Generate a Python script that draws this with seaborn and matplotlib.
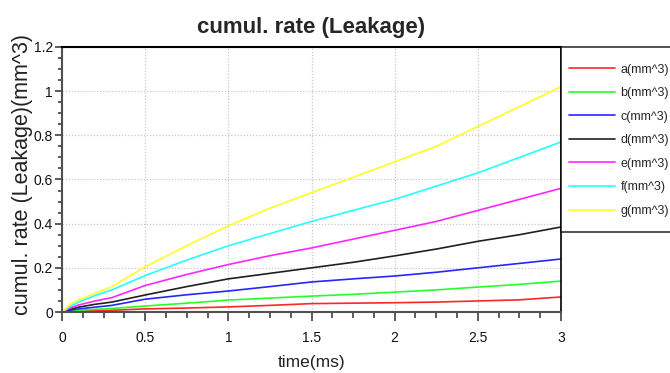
import numpy as np
import pandas as pd
import matplotlib
matplotlib.use("Agg")
import matplotlib.pyplot as plt
from matplotlib.ticker import MultipleLocator, FuncFormatter
from matplotlib.lines import Line2D
from matplotlib.legend_handler import HandlerLine2D
import seaborn as sns

time_ms = [0, 0.05, 0.1, 0.2, 0.3, 0.5, 0.75, 1.0, 1.25, 1.5, 1.75, 2.0, 2.25, 2.5, 2.75, 3.0]
a_vals = [0, 0.002, 0.004, 0.006, 0.008, 0.014, 0.018, 0.023, 0.030, 0.038, 0.040, 0.042, 0.045, 0.050, 0.055, 0.068]
b_vals = [0, 0.005, 0.008, 0.012, 0.016, 0.027, 0.040, 0.054, 0.063, 0.072, 0.080, 0.090, 0.100, 0.113, 0.125, 0.140]
c_vals = [0, 0.008, 0.014, 0.022, 0.030, 0.058, 0.078, 0.095, 0.115, 0.136, 0.150, 0.163, 0.180, 0.200, 0.220, 0.240]
d_vals = [0, 0.012, 0.022, 0.035, 0.045, 0.077, 0.115, 0.150, 0.175, 0.200, 0.225, 0.254, 0.285, 0.320, 0.350, 0.385]
e_vals = [0, 0.018, 0.032, 0.050, 0.065, 0.120, 0.170, 0.215, 0.255, 0.290, 0.330, 0.370, 0.410, 0.460, 0.510, 0.560]
f_vals = [0, 0.025, 0.045, 0.075, 0.100, 0.165, 0.235, 0.300, 0.355, 0.410, 0.460, 0.510, 0.570, 0.630, 0.700, 0.770]
g_vals = [0, 0.035, 0.055, 0.085, 0.115, 0.205, 0.300, 0.390, 0.470, 0.540, 0.610, 0.680, 0.750, 0.840, 0.930, 1.020]

series_names = ["a(mm^3)", "b(mm^3)", "c(mm^3)", "d(mm^3)", "e(mm^3)", "f(mm^3)", "g(mm^3)"]
series_colors = ["#ff2626", "#26ff26", "#2626ff", "#202020", "#ff26ff", "#26ffff", "#ffff26"]
all_vals = [a_vals, b_vals, c_vals, d_vals, e_vals, f_vals, g_vals]

title_text = "cumul. rate (Leakage)"
x_label = "time(ms)"
y_label = "cumul. rate (Leakage)(mm^3)"

df = pd.DataFrame({
    "time": np.tile(time_ms, len(series_names)),
    "value": np.concatenate(all_vals),
    "series": np.repeat(series_names, len(time_ms)),
})

sns.set_style("white")
plt.rcParams["font.family"] = ["Liberation Sans", "DejaVu Sans"]

fig = plt.figure(figsize=(6.70, 3.73), dpi=100)
W, H = 670, 373
ax = fig.add_axes([62 / W, (H - 312) / H, (561 - 62) / W, (312 - 47) / H])

sns.lineplot(data=df, x="time", y="value", hue="series", hue_order=series_names,
             palette=series_colors, linewidth=1.2, ax=ax, legend=True)

ax.set_xlim(0, 3)
ax.set_ylim(0, 1.2)
ax.xaxis.set_major_locator(MultipleLocator(0.5))
ax.xaxis.set_minor_locator(MultipleLocator(0.125))
ax.yaxis.set_major_locator(MultipleLocator(0.2))
ax.yaxis.set_minor_locator(MultipleLocator(0.05))
fmt = FuncFormatter(lambda v, p: "%g" % round(v, 3))
ax.xaxis.set_major_formatter(fmt)
ax.yaxis.set_major_formatter(fmt)

ax.grid(True, which="major", linestyle=(0, (1, 1.5)), color="#c8c8c8", linewidth=0.9)
ax.tick_params(axis="y", which="major", direction="out", length=5, width=1.2, color="#404040",
               labelsize=10, pad=1.5, left=True, labelcolor="#111111")
ax.tick_params(axis="y", which="minor", direction="out", length=3, width=1.2, color="#404040",
               left=True)
ax.tick_params(axis="x", which="major", direction="out", length=6.5, width=1.2, color="#404040",
               labelsize=10, pad=7, bottom=True, labelcolor="#111111")
ax.tick_params(axis="x", which="minor", direction="out", length=4, width=1.2, color="#404040",
               bottom=True)

for side in ["left", "bottom"]:
    ax.spines[side].set_color("#505050")
    ax.spines[side].set_linewidth(1.5)
ax.spines["top"].set_color("black")
ax.spines["top"].set_linewidth(1.5)
ax.spines["right"].set_color("black")
ax.spines["right"].set_linewidth(1.2)

ax.set_xlabel(x_label, fontsize=12.5, labelpad=7.5, color="#222222")
ax.set_ylabel(y_label, fontsize=15.5, color="#222222")
ax.yaxis.set_label_coords(-0.058, 0.52)
ax.set_title(title_text, fontsize=16, fontweight="bold", pad=10)

LEG_FS = 9
HH = 3.0


class ShiftedLineHandler(HandlerLine2D):
    def create_artists(self, legend, orig_handle, xdescent, ydescent, width, height,
                       fontsize, trans):
        arts = super().create_artists(legend, orig_handle, xdescent, ydescent, width,
                                      height, fontsize, trans)
        shift = 0.345 * fontsize
        for a in arts:
            a.set_ydata(np.asarray(a.get_ydata(), dtype=float) - shift)
        return arts


handles, labels = ax.get_legend_handles_labels()
leg = ax.legend(handles, labels, loc="upper left", bbox_to_anchor=(1.0, 0.0, 0.3, 1.0),
                mode="expand", borderaxespad=0, frameon=True, fancybox=False,
                edgecolor="black", fontsize=LEG_FS, handlelength=3.7, handletextpad=0.4,
                handleheight=HH, labelspacing=-0.31, borderpad=0.65,
                handler_map={Line2D: ShiftedLineHandler()})
leg.get_frame().set_linewidth(1.2)
leg.set_clip_on(False)

fig.savefig("out.png", dpi=100, facecolor="white")
